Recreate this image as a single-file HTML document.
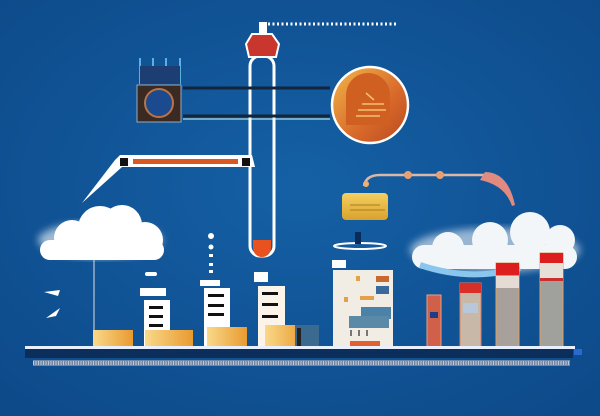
<!DOCTYPE html>
<html><head><style>
html,body{margin:0;padding:0;background:#10508f;}
svg{display:block;}
</style></head><body>
<svg width="600" height="416" viewBox="0 0 600 416" xmlns="http://www.w3.org/2000/svg">
<defs>
<radialGradient id="bg" cx="50%" cy="45%" r="70%"><stop offset="0" stop-color="#1560a5"/><stop offset="1" stop-color="#0d4a8a"/></radialGradient>
<linearGradient id="orb" x1="0" y1="0" x2="1" y2="1"><stop offset="0" stop-color="#f2b84a"/><stop offset="0.6" stop-color="#d8682a"/><stop offset="1" stop-color="#b84a1f"/></linearGradient>
<linearGradient id="gold" x1="0" y1="0" x2="0" y2="1"><stop offset="0" stop-color="#f4d061"/><stop offset="1" stop-color="#d8a22c"/></linearGradient>
<linearGradient id="blk" x1="0" y1="0" x2="1" y2="0"><stop offset="0" stop-color="#f9d98a"/><stop offset="1" stop-color="#e99a2f"/></linearGradient>
<filter id="glow"><feGaussianBlur stdDeviation="4"/></filter>
</defs>
<rect width="600" height="416" fill="url(#bg)"/>
<!-- dotted line -->
<line x1="268" y1="24" x2="398" y2="24" stroke="#fff" stroke-width="3" stroke-dasharray="2 2.5"/>
<rect x="259" y="22" width="8" height="12" fill="#fff"/>
<!-- tube -->
<rect x="250" y="56" width="24" height="200" rx="10" fill="none" stroke="#fff" stroke-width="3"/>
<path d="M253 240 h18 v8 a9 9 0 0 1 -18 0z" fill="#e8521e"/>
<polygon points="252,34 272,34 279,44 276,57 249,57 246,44" fill="#c8362e" stroke="#fff" stroke-width="2"/>
<!-- heatsink -->
<g stroke="#5bb0e0" stroke-width="2"><line x1="140" y1="58" x2="140" y2="84"/><line x1="153" y1="58" x2="153" y2="84"/><line x1="166" y1="58" x2="166" y2="84"/><line x1="180" y1="58" x2="180" y2="84"/></g>
<rect x="140" y="66" width="40" height="18" fill="#1d3e72"/>
<rect x="137" y="85" width="44" height="37" fill="#3a2a22" stroke="#9ab" stroke-width="1"/>
<circle cx="159" cy="103" r="14" fill="#1b4a8e" stroke="#b87448" stroke-width="2"/>
<line x1="183" y1="88" x2="330" y2="88" stroke="#13243c" stroke-width="3"/>
<line x1="183" y1="116" x2="330" y2="116" stroke="#13243c" stroke-width="3"/>
<line x1="183" y1="119" x2="330" y2="119" stroke="#cfe" stroke-width="1"/>
<!-- orb -->
<ellipse cx="370" cy="105" rx="38" ry="38" fill="url(#orb)" stroke="#fff" stroke-width="2.5"/>
<path d="M346 125 v-30 a22 22 0 0 1 44 0 v30z" fill="#d06022"/>
<g stroke="#f4c070" stroke-width="1.5"><line x1="366" y1="93" x2="374" y2="100"/><line x1="362" y1="104" x2="384" y2="104"/><line x1="358" y1="110" x2="386" y2="110"/><line x1="356" y1="116" x2="380" y2="116"/></g>
<!-- arm -->
<path d="M120 155 L252 155 L255 167 L122 167 L82 203 L115 160z" fill="#fff"/>
<rect x="133" y="159" width="105" height="5" fill="#d85a22"/>
<rect x="120" y="158" width="8" height="8" fill="#111"/>
<rect x="242" y="158" width="8" height="8" fill="#111"/>
<!-- pipe -->
<path d="M364 186 Q366 175 380 175 L488 175" stroke="#d9b8a8" stroke-width="2.5" fill="none"/>
<circle cx="408" cy="175" r="4" fill="#e8a070"/><circle cx="440" cy="175" r="4" fill="#e8a070"/><circle cx="366" cy="184" r="3" fill="#f0b070"/>
<path d="M485 172 Q508 172 515 205 L512 206 Q505 185 480 180z" fill="#e08a80"/>
<rect x="342" y="193" width="46" height="27" rx="4" fill="url(#gold)"/>
<g stroke="#b07820" stroke-width="1"><line x1="350" y1="205" x2="380" y2="205"/><line x1="350" y1="210" x2="385" y2="210"/></g>
<ellipse cx="360" cy="246" rx="26" ry="3" fill="none" stroke="#fff" stroke-width="2"/>
<rect x="355" y="232" width="6" height="12" fill="#0a2a5a"/>
<!-- clouds -->
<g fill="#fff">
<ellipse cx="100" cy="240" rx="62" ry="18" filter="url(#glow)" opacity=".6"/>
<circle cx="72" cy="238" r="18"/><circle cx="100" cy="228" r="22"/><circle cx="122" cy="225" r="20"/><circle cx="145" cy="240" r="18"/>
<rect x="40" y="240" width="124" height="20" rx="10"/>
</g>
<line x1="94" y1="260" x2="94" y2="330" stroke="#ddd" stroke-width="1"/>
<g fill="#fff" opacity=".95">
<ellipse cx="495" cy="250" rx="85" ry="22" filter="url(#glow)" opacity=".6"/>
<circle cx="448" cy="248" r="16"/><circle cx="490" cy="240" r="18"/><circle cx="530" cy="232" r="20"/><circle cx="560" cy="240" r="15"/>
<rect x="412" y="245" width="165" height="24" rx="12"/>
</g>
<path d="M420 265 Q470 282 520 268" stroke="#8ac6ee" stroke-width="6" fill="none"/>
<!-- dashes -->
<path d="M44 292 L60 290 L58 296z M46 318 L60 308 L56 316z" fill="#fff"/>
<!-- dots -->
<g fill="#fff"><circle cx="211" cy="236" r="3"/><circle cx="211" cy="247" r="2.5"/><rect x="209" y="254" width="4" height="3"/><rect x="209" y="263" width="4" height="3"/><rect x="209" y="270" width="4" height="3"/></g>
<!-- left buildings -->
<rect x="145" y="272" width="12" height="4" rx="2" fill="#fff"/>
<rect x="140" y="288" width="26" height="8" fill="#fff"/>
<rect x="144" y="300" width="26" height="47" fill="#fff"/>
<g fill="#111"><rect x="149" y="306" width="14" height="3"/><rect x="149" y="315" width="14" height="3"/><rect x="149" y="324" width="14" height="3"/></g>
<rect x="93" y="330" width="40" height="17" fill="url(#blk)"/>
<rect x="145" y="330" width="48" height="17" fill="url(#blk)"/>
<rect x="200" y="280" width="20" height="6" fill="#fff"/>
<rect x="204" y="288" width="26" height="59" fill="#fff"/>
<g fill="#111"><rect x="208" y="294" width="16" height="3"/><rect x="208" y="304" width="16" height="3"/><rect x="208" y="313" width="16" height="3"/></g>
<rect x="207" y="327" width="40" height="20" fill="url(#blk)"/>
<rect x="254" y="272" width="14" height="10" fill="#fff"/>
<rect x="258" y="286" width="27" height="61" fill="#fcf4e8"/>
<g fill="#111"><rect x="262" y="292" width="16" height="3"/><rect x="262" y="303" width="16" height="3"/><rect x="262" y="315" width="16" height="3"/></g>
<rect x="265" y="325" width="40" height="22" fill="url(#blk)"/>
<rect x="295" y="325" width="24" height="22" fill="#3a6a90"/>
<rect x="297" y="328" width="4" height="18" fill="#222"/>
<!-- right buildings -->
<rect x="332" y="260" width="14" height="8" fill="#fff"/>
<rect x="333" y="270" width="60" height="77" fill="#f2ede4"/>
<g fill="#e3a24a"><rect x="356" y="276" width="4" height="5"/><rect x="344" y="297" width="4" height="5"/><rect x="360" y="296" width="14" height="4"/><rect x="350" y="341" width="30" height="5" fill="#e06030"/></g>
<rect x="376" y="276" width="13" height="6" fill="#c86a30"/>
<rect x="376" y="286" width="13" height="8" fill="#3a6a9a"/>
<rect x="361" y="307" width="30" height="12" fill="#4a82a8"/>
<rect x="349" y="316" width="40" height="12" fill="#5a8aa8"/>
<g fill="#777"><rect x="350" y="330" width="2" height="6"/><rect x="358" y="330" width="2" height="6"/><rect x="366" y="330" width="2" height="6"/></g>
<rect x="427" y="295" width="14" height="52" fill="#d0604a" stroke="#e8a080" stroke-width="1"/>
<rect x="430" y="312" width="8" height="6" fill="#1d3e82"/>
<rect x="460" y="283" width="21" height="64" fill="#c8b8a8" stroke="#e08060" stroke-width="1"/>
<rect x="460" y="283" width="21" height="10" fill="#d83028"/>
<rect x="463" y="303" width="15" height="10" fill="#b8c8d8"/>
<rect x="496" y="263" width="23" height="84" fill="#a8a09a" stroke="#e0a060" stroke-width="1"/>
<rect x="496" y="263" width="23" height="12" fill="#dd1e1e"/>
<rect x="496" y="276" width="23" height="12" fill="#e4dcd4"/>
<rect x="540" y="253" width="23" height="94" fill="#a0a09c" stroke="#e0a060" stroke-width="1"/>
<rect x="540" y="253" width="23" height="10" fill="#dd1e1e"/>
<rect x="540" y="263" width="23" height="15" fill="#e6e0d8"/>
<rect x="540" y="278" width="23" height="3" fill="#c83030"/>
<!-- ground -->
<rect x="25" y="346" width="550" height="3" fill="#e8f0ff"/>
<rect x="25" y="349" width="548" height="9" fill="#0b2e5a"/>
<rect x="33" y="360" width="537" height="6" fill="#8090a8" opacity=".85"/>
<line x1="33" y1="363" x2="570" y2="363" stroke="#c0c8d8" stroke-width="4" stroke-dasharray="1 1.5"/>
<rect x="574" y="349" width="8" height="6" fill="#2a6ad0"/>
</svg>
</body></html>
